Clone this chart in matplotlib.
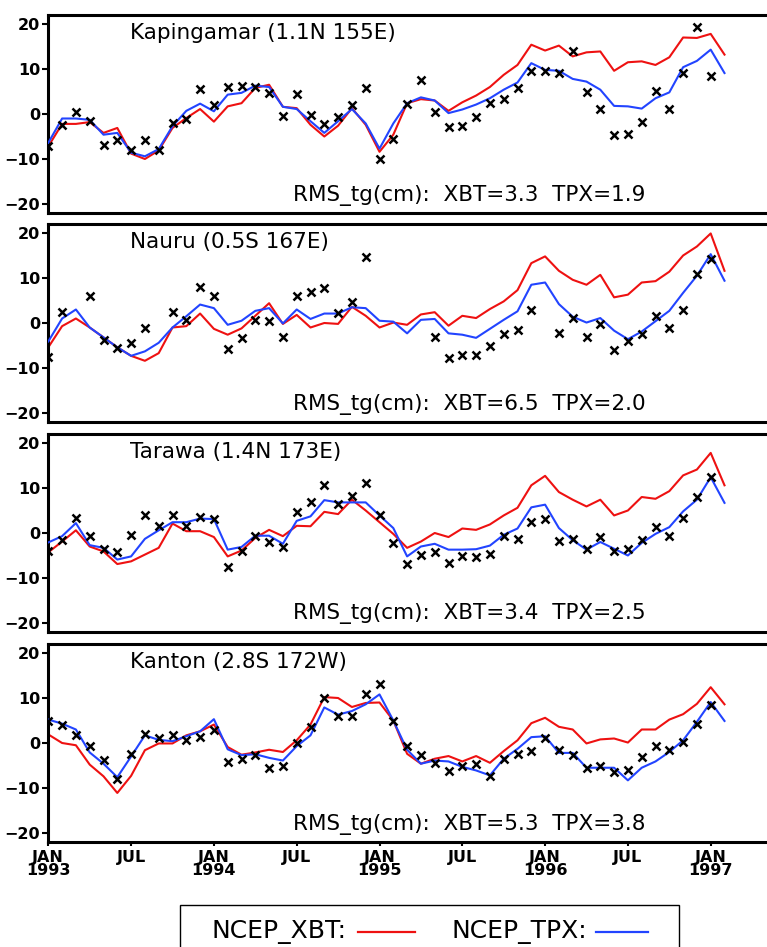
import numpy as np
import matplotlib
matplotlib.use("Agg")
import matplotlib.pyplot as plt
from matplotlib.patches import Rectangle
from matplotlib.lines import Line2D

# ── Data (monthly, Jan 1993 .. Feb 1997) ─────────────────────────────
nan = np.nan
months = np.arange(50)

stations = ["Kapingamar (1.1N 155E)", "Nauru (0.5S 167E)",
            "Tarawa (1.4N 173E)", "Kanton (2.8S 172W)"]
rms_xbt = [3.3, 6.5, 3.4, 5.3]
rms_tpx = [1.9, 2.0, 2.5, 3.8]

kap_xbt = [-7.2, -2.2, -2.2, -1.8, -4.2, -3.1, -8.8, -10.0, -8.1, -3.1,
           -0.9, 1.1, -1.7, 1.7, 2.4, 5.8, 6.5, 1.6, 1.3, -2.4,
           -5.0, -2.6, 1.3, -2.4, -8.4, -4.6, 2.4, 3.3, 3.0, 0.7,
           2.6, 4.1, 6.0, 8.7, 10.9, 15.4, 14.1, 15.2, 12.8, 13.7,
           13.9, 9.6, 11.5, 11.7, 10.9, 12.6, 17.0, 16.9, 17.8, 13.2]
kap_tpx = [-6.4, -1.0, -1.0, -1.3, -4.6, -4.2, -8.6, -9.4, -7.8, -2.7,
           0.7, 2.3, 0.6, 4.3, 4.7, 6.3, 6.0, 1.6, 1.1, -1.6,
           -4.2, -1.6, 1.1, -2.1, -7.7, -2.1, 2.4, 3.7, 3.0, 0.2,
           1.0, 2.1, 3.5, 5.4, 7.0, 11.3, 9.8, 9.6, 7.8, 7.2,
           5.4, 1.8, 1.7, 1.2, 3.5, 4.8, 10.4, 11.8, 14.3, 9.1]
kap_tg = [-7.2, -2.4, 0.4, -1.6, -6.8, -5.8, -8.1, -5.7, -8.1, -2.0,
          -1.1, 5.5, 2.1, 5.9, 6.3, 6.1, 4.7, -0.4, 4.4, -0.2,
          -2.2, -0.7, 2.1, 5.8, -10.0, -5.5, 2.2, 7.6, 0.4, -2.9,
          -2.6, -0.7, 2.4, 3.4, 5.8, 9.5, 9.5, 9.1, 13.9, 4.9,
          1.2, -4.7, -4.4, -1.8, 5.2, 1.2, 9.2, 19.4, 8.4, nan]

nau_xbt = [-5.4, -0.7, 1.0, -1.0, -3.2, -5.4, -7.3, -8.4, -6.7, -1.0,
           -0.7, 2.1, -1.3, -2.6, -1.2, 1.6, 4.4, -0.2, 1.8, -1.0,
           0.0, -0.2, 3.6, 1.6, -1.0, 0.1, -0.4, 1.9, 2.4, -0.6,
           1.6, 1.1, 3.1, 4.8, 7.3, 13.3, 14.8, 11.6, 9.6, 8.5,
           10.7, 5.7, 6.3, 9.0, 9.3, 11.4, 15.0, 17.0, 19.9, 11.6]
nau_tpx = [-4.1, 1.0, 3.0, -1.0, -3.2, -5.4, -7.3, -6.3, -4.4, -1.0,
           1.5, 4.1, 3.3, -0.4, 0.5, 2.7, 3.3, -0.1, 3.0, 0.9,
           2.1, 2.1, 3.5, 3.3, 0.5, 0.3, -2.3, 0.7, 0.9, -2.3,
           -2.6, -3.3, -1.3, 0.7, 2.6, 8.5, 9.0, 4.2, 1.4, 0.1,
           1.1, -1.7, -3.6, -1.9, 0.4, 2.7, 6.7, 10.5, 15.3, 9.4]
nau_tg = [-7.5, 2.4, nan, 5.9, -3.8, -5.6, -4.4, -1.2, nan, 2.4,
          0.7, 8.1, 5.9, -5.8, -3.3, 0.7, 0.4, -3.0, 5.9, 6.8,
          7.8, 2.2, 4.6, 14.7, nan, nan, nan, nan, -3.2, -7.8,
          -7.1, -7.1, -5.2, -2.4, -1.5, 3.0, nan, -2.2, 1.1, -3.0,
          -0.2, -5.9, -3.9, -2.4, 1.5, -1.0, 2.9, 10.9, 14.2, nan]

tar_xbt = [-4.3, -1.9, 0.6, -3.0, -4.1, -6.9, -6.3, -4.8, -3.3, 2.1,
           0.4, 0.4, -0.9, -5.2, -3.9, -1.1, 0.7, -0.7, 1.6, 1.5,
           4.7, 4.2, 7.4, 5.0, 2.4, -0.2, -3.3, -1.9, 0.0, -0.9,
           1.0, 0.7, 1.9, 3.9, 5.6, 10.6, 12.7, 9.1, 7.4, 5.9,
           7.4, 3.9, 5.0, 8.0, 7.6, 9.3, 12.8, 14.1, 17.8, 10.6]
tar_tpx = [-2.1, -0.7, 2.2, -2.7, -3.3, -5.9, -5.2, -1.3, 0.6, 2.4,
           2.4, 3.2, 3.1, -3.7, -3.1, -0.6, -0.6, -2.4, 2.7, 3.7,
           7.3, 6.8, 6.8, 6.8, 3.9, 1.1, -5.2, -3.0, -2.4, -3.7,
           -3.7, -3.6, -2.8, -0.4, 1.0, 5.7, 6.3, 1.1, -1.6, -3.7,
           -2.0, -3.5, -5.0, -2.2, -0.2, 1.3, 4.8, 7.4, 12.4, 6.7]
tar_tg = [-3.9, -1.6, 3.3, -0.6, -3.5, -4.3, -0.4, 3.9, 1.5, 3.9,
          1.6, 3.5, 3.0, -7.6, -3.9, -0.6, -1.9, -3.1, 4.7, 6.8,
          10.7, 6.5, 8.3, 11.1, 4.1, -2.2, -6.8, -4.8, -4.2, -6.7,
          -5.2, -5.4, -4.7, -0.7, -1.3, 2.4, 3.0, -1.7, -1.3, -3.5,
          -0.9, -3.9, -3.5, -1.6, 1.3, -0.6, 3.3, 8.1, 12.4, nan]

kan_xbt = [1.9, 0.0, -0.5, -4.8, -7.4, -11.1, -7.3, -1.6, -0.1, -0.1,
           1.7, 2.6, 4.1, -0.9, -2.6, -2.1, -1.5, -2.0, 0.6, 4.1,
           10.2, 10.0, 8.0, 8.9, 9.0, 5.0, -2.4, -4.6, -3.5, -2.9,
           -4.1, -2.9, -4.4, -1.8, 0.6, 4.4, 5.6, 3.6, 3.0, -0.1,
           0.8, 1.0, 0.1, 3.0, 3.0, 5.2, 6.4, 8.7, 12.4, 8.6]
kan_tpx = [5.2, 4.3, 3.0, -2.1, -4.6, -7.6, -3.0, 1.7, 0.7, 0.4,
           1.5, 2.6, 5.3, -1.4, -2.7, -2.5, -3.3, -3.9, -0.7, 1.7,
           7.9, 6.3, 7.1, 8.6, 10.8, 5.0, -1.5, -4.6, -3.9, -4.1,
           -5.3, -6.1, -7.2, -3.5, -1.3, 1.3, 1.5, -2.2, -2.2, -5.5,
           -5.5, -5.5, -8.3, -5.5, -4.1, -2.0, 0.6, 4.7, 9.1, 4.9]
kan_tg = [4.9, 4.1, 1.7, -0.7, -3.7, -8.1, -2.4, 1.9, 1.2, 1.7,
          0.6, 1.3, 3.0, -4.2, -3.5, -2.7, -5.5, -5.0, 0.0, 3.6,
          9.9, 5.9, 6.1, 11.0, 13.2, 5.0, -0.7, -2.7, -4.4, -6.3,
          -5.2, -4.6, -7.4, -3.5, -2.4, -1.8, 1.1, -1.6, -2.7, -5.5,
          -5.2, -6.4, -6.1, -3.1, -0.7, -1.6, 0.2, 4.3, 8.4, nan]

xbt_series = [kap_xbt, nau_xbt, tar_xbt, kan_xbt]
tpx_series = [kap_tpx, nau_tpx, tar_tpx, kan_tpx]
tg_series = [kap_tg, nau_tg, tar_tg, kan_tg]

tick_months = np.arange(0, 49, 6)
tick_labels = ["JAN\n1993", "JUL", "JAN\n1994", "JUL", "JAN\n1995",
               "JUL", "JAN\n1996", "JUL", "JAN\n1997"]

RED = "#ee1111"
BLUE = "#2244ff"

# ── Figure ───────────────────────────────────────────────────────────
W, H = 767, 947
fig = plt.figure(figsize=(W / 100, H / 100), dpi=100)
fig.patch.set_facecolor("white")

x_left = 48.3
px_per_month = 13.8
xmax = 52.5
panel_tops = [15, 224, 434, 644]
panel_h = 198

for i in range(4):
    top = panel_tops[i]
    ax = fig.add_axes([x_left / W, (H - top - panel_h) / H,
                       xmax * px_per_month / W, panel_h / H])
    ax.plot(months, xbt_series[i], color=RED, lw=1.5, zorder=2)
    ax.plot(months, tpx_series[i], color=BLUE, lw=1.5, zorder=3)
    ax.plot(months, tg_series[i], ls="none", marker="x", ms=6,
            mew=1.8, color="black", zorder=4)

    ax.set_xlim(0, xmax)
    ax.set_ylim(-22, 22)
    ax.set_yticks([-20, -10, 0, 10, 20])
    ax.set_yticklabels(["\u221220", "\u221210", "0", "10", "20"],
                       fontsize=11.5, fontweight="bold")
    ax.tick_params(axis="y", direction="out", length=4, width=1.5, pad=2)

    for side in ["top", "left", "bottom"]:
        ax.spines[side].set_linewidth(2.2)
    ax.spines["right"].set_visible(False)

    if i == 3:
        ax.set_xticks(tick_months)
        ax.set_xticklabels(tick_labels, fontsize=11.5, fontweight="bold",
                           linespacing=0.9)
        ax.tick_params(axis="x", direction="out", length=3, width=1.5, pad=2.5)
    else:
        ax.set_xticks([])

    ax.text((130 - x_left) / (xmax * px_per_month), 1 - 18 / panel_h,
            stations[i], transform=ax.transAxes, ha="left", va="center",
            fontsize=15.5)
    ax.text((293 - x_left) / (xmax * px_per_month), 18 / panel_h,
            f"RMS_tg(cm):  XBT={rms_xbt[i]:.1f}  TPX={rms_tpx[i]:.1f}",
            transform=ax.transAxes, ha="left", va="center", fontsize=15.5)

# ── Legend box ───────────────────────────────────────────────────────
fig.patches.append(Rectangle((180 / W, -0.02), 499 / W, (H - 905) / H + 0.02,
                             transform=fig.transFigure, fill=False,
                             edgecolor="black", lw=1.0))
ly = (H - 932) / H
fig.text(211 / W, ly, "NCEP_XBT:", ha="left", va="center", fontsize=18)
fig.lines.append(Line2D([358 / W, 415 / W], [ly, ly], color=RED, lw=1.6,
                        transform=fig.transFigure))
fig.text(451 / W, ly, "NCEP_TPX:", ha="left", va="center", fontsize=18)
fig.lines.append(Line2D([596 / W, 648 / W], [ly, ly], color=BLUE, lw=1.6,
                        transform=fig.transFigure))

fig.savefig("out.png", dpi=100, facecolor="white")
